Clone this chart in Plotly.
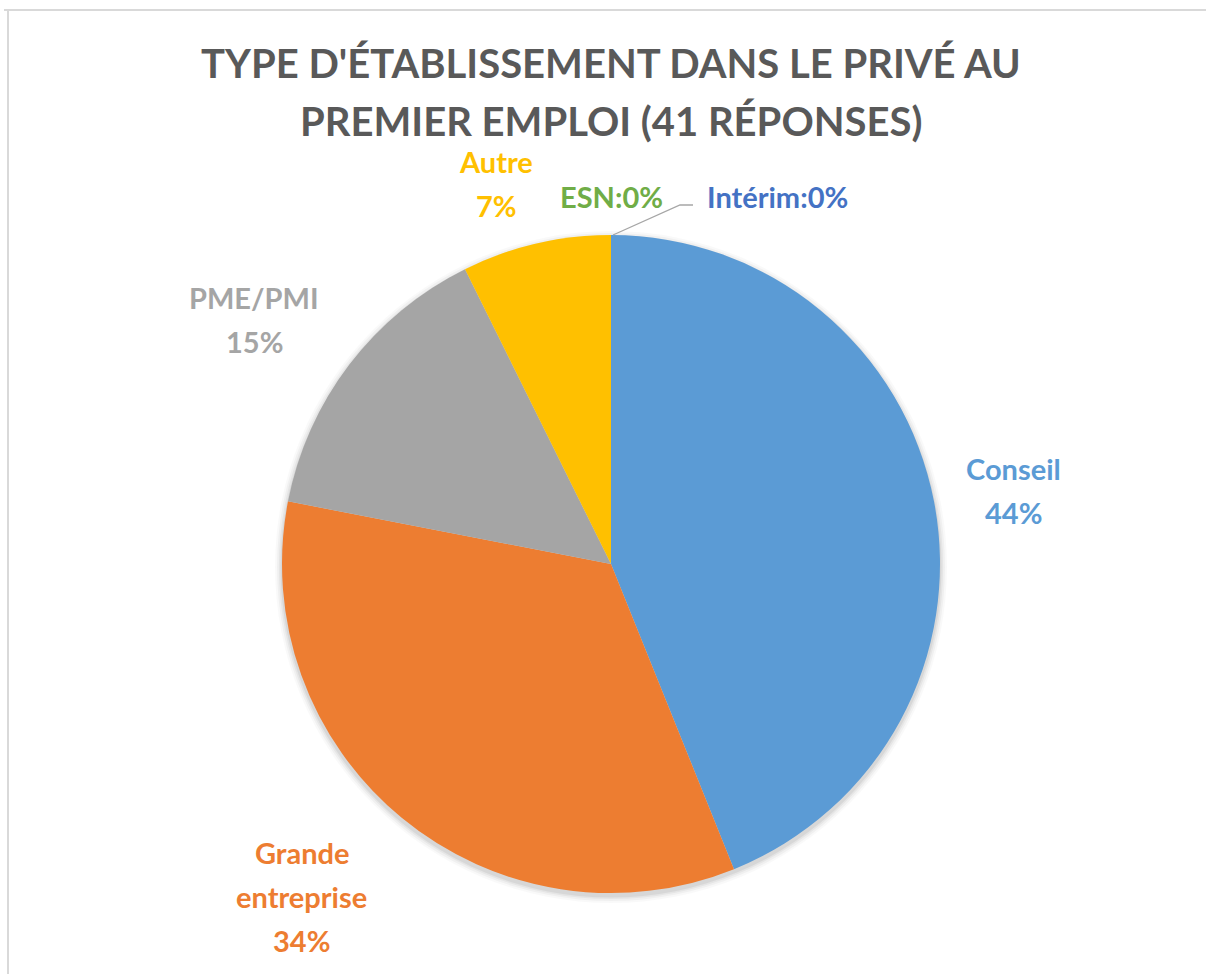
import math
import plotly.graph_objects as go

# ---- data ----
categories = ["Conseil", "Grande entreprise", "PME/PMI", "Autre", "ESN", "Intérim"]
values = [18, 14, 6, 3, 0, 0]
title_lines = ["TYPE D'ÉTABLISSEMENT DANS LE PRIVÉ AU", "PREMIER EMPLOI (41 RÉPONSES)"]

# ---- style ----
colors = ["#5B9BD5", "#ED7D31", "#A5A5A5", "#FFC000", "#70AD47", "#4472C4"]
# (radial factor, angular nudge in degrees) for each non-zero slice label block
label_place = [(1.243, 0.6), (1.380, 3.4), (1.314, -2.9), (1.207, -3.6)]
zero_label_x = [611, 777]
zero_label_y = 197
W, H = 1206, 974
cx, cy, r = 611, 564, 329
FONT = "Lato"
LBL_SIZE = 29
LINE_GAP = 44


def px(x):
    return x / W


def py(y):
    return 1 - y / H


total = sum(values)
fig = go.Figure()

# soft shadow under the pie
for d, a in [(7, 0.025), (5, 0.035), (3, 0.045), (1.5, 0.06)]:
    fig.add_trace(go.Pie(
        values=[total], sort=False, marker=dict(colors=[f"rgba(0,0,0,{a})"], line=dict(width=0)),
        textinfo="none", hoverinfo="skip", showlegend=False,
        domain=dict(x=[px(cx - r - d), px(cx + r + d)], y=[py(cy + 3 + r + d), py(cy + 3 - r - d)]),
    ))

fig.add_trace(go.Pie(
    labels=categories, values=values, sort=False, direction="clockwise", rotation=0,
    marker=dict(colors=colors, line=dict(width=0)), textinfo="none", hoverinfo="label+percent",
    domain=dict(x=[px(cx - r), px(cx + r)], y=[py(cy + r), py(cy - r)]),
    showlegend=False,
))

annotations = []


def add_block(lines, x, y, color):
    n = len(lines)
    for i, t in enumerate(lines):
        yy = y + (i - (n - 1) / 2) * LINE_GAP
        annotations.append(dict(text=t, x=px(x), y=py(yy), xref="paper", yref="paper",
                                showarrow=False, xanchor="center", yanchor="middle",
                                font=dict(family=FONT, size=LBL_SIZE, color=color, weight="bold")))


cum = 0
zero_items = []
for i, (c, v) in enumerate(zip(categories, values)):
    if v == 0:
        zero_items.append(i)
        continue
    mid = (cum + v / 2) / total
    cum += v
    k, dth = label_place[i]
    th = 2 * math.pi * mid + math.radians(dth)
    x = cx + k * r * math.sin(th)
    y = cy - k * r * math.cos(th)
    pct = f"{round(v / total * 100)}%"
    add_block(c.split(" ") + [pct], x, y, colors[i])

# zero-value labels at the top with a leader line
for x, i in zip(zero_label_x, zero_items):
    pct = f"{round(values[i] / total * 100)}%"
    add_block([f"{categories[i]}:{pct}"], x, zero_label_y, colors[i])

# title
for j, t in enumerate(title_lines):
    annotations.append(dict(text=t, x=px(611), y=py(63 + j * 58), xref="paper", yref="paper",
                            showarrow=False, xanchor="center", yanchor="middle",
                            font=dict(family=FONT, size=40, color="#595959", weight="bold")))

shapes = [
    # leader line
    dict(type="path", xref="paper", yref="paper",
         path=f"M {px(cx + 2)} {py(cy - r)} L {px(680)} {py(205)} L {px(693)} {py(205)}",
         line=dict(color="#A6A6A6", width=1.3)),
    # chart frame (top & left)
    dict(type="line", xref="paper", yref="paper", x0=px(4), x1=px(1206), y0=py(10), y1=py(10),
         line=dict(color="#D9D9D9", width=2)),
    dict(type="line", xref="paper", yref="paper", x0=px(8), x1=px(8), y0=py(10), y1=py(974),
         line=dict(color="#D9D9D9", width=2)),
]

fig.update_layout(width=W, height=H, margin=dict(l=0, r=0, t=0, b=0),
                  paper_bgcolor="white", plot_bgcolor="white",
                  annotations=annotations, shapes=shapes, showlegend=False)
fig.write_html("out.html", config={"displayModeBar": False},
               post_script="document.body.style.margin='0';")
